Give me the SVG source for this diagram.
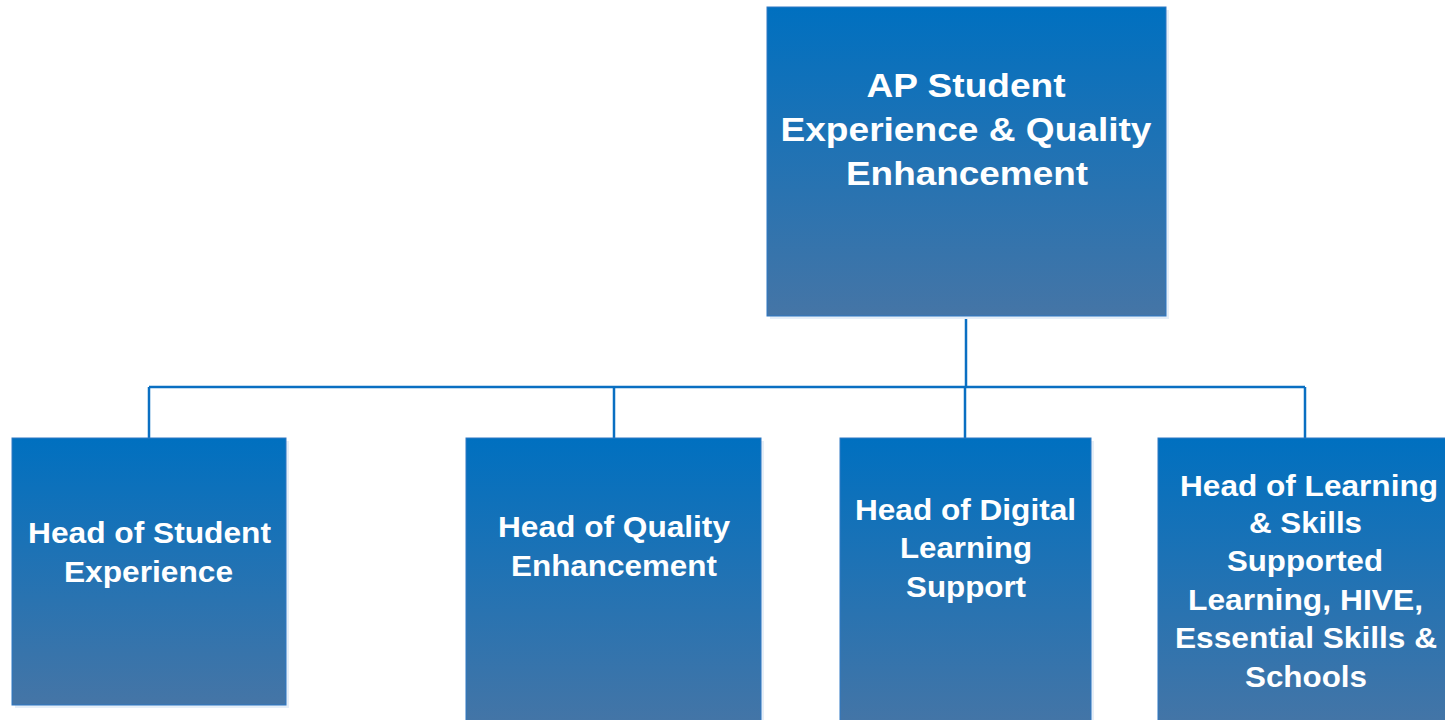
<svg xmlns="http://www.w3.org/2000/svg" width="1445" height="720" viewBox="0 0 1445 720">
<style>
.box{fill:url(#g);stroke:#2F78C4;stroke-width:1}
.sh{fill:#E6EEF7}
.t{font-family:"Liberation Sans",Arial,sans-serif;font-weight:bold;fill:#fff;text-anchor:middle}
.top{font-size:34px}
.sub{font-size:30px}
.c{stroke:#0A6FC2;stroke-width:2.5;fill:none}
</style>
<defs>
<linearGradient id="g" x1="0" y1="0" x2="0" y2="1">
<stop offset="0" stop-color="#0070C0"/>
<stop offset="1" stop-color="#4575A6"/>
</linearGradient>
</defs>
<rect width="1445" height="720" fill="#fff"/>
<g id="connectors">
<path class="c" d="M966 316 V387"/>
<path class="c" d="M149 387 H1305"/>
<path class="c" d="M149 387 V438 M614 387 V438 M965 387 V438 M1305 387 V438"/>
</g>
<g id="n0">
<rect class="sh" x="770" y="10" width="399" height="309"/>
<rect class="box" x="767" y="7" width="399" height="309"/>
<text class="t top" x="966" y="97" textLength="199" lengthAdjust="spacingAndGlyphs">AP Student</text>
<text class="t top" x="966" y="141" textLength="371" lengthAdjust="spacingAndGlyphs">Experience &amp; Quality</text>
<text class="t top" x="967" y="185" textLength="242" lengthAdjust="spacingAndGlyphs">Enhancement</text>
</g>
<g id="n1">
<rect class="sh" x="15" y="441" width="274" height="267"/>
<rect class="box" x="12" y="438" width="274" height="267"/>
<text class="t sub" x="149.5" y="543" textLength="243" lengthAdjust="spacingAndGlyphs">Head of Student</text>
<text class="t sub" x="148.5" y="582" textLength="169" lengthAdjust="spacingAndGlyphs">Experience</text>
</g>
<g id="n2">
<rect class="sh" x="469" y="441" width="295" height="290"/>
<rect class="box" x="466" y="438" width="295" height="290"/>
<text class="t sub" x="614" y="537" textLength="232" lengthAdjust="spacingAndGlyphs">Head of Quality</text>
<text class="t sub" x="614" y="576" textLength="206" lengthAdjust="spacingAndGlyphs">Enhancement</text>
</g>
<g id="n3">
<rect class="sh" x="843" y="441" width="251" height="290"/>
<rect class="box" x="840" y="438" width="251" height="290"/>
<text class="t sub" x="965.5" y="520" textLength="221" lengthAdjust="spacingAndGlyphs">Head of Digital</text>
<text class="t sub" x="966" y="558" textLength="132" lengthAdjust="spacingAndGlyphs">Learning</text>
<text class="t sub" x="966" y="597" textLength="120" lengthAdjust="spacingAndGlyphs">Support</text>
</g>
<g id="n4">
<rect class="box" x="1158" y="438" width="295" height="290"/>
<text class="t sub" x="1309" y="496" textLength="258" lengthAdjust="spacingAndGlyphs">Head of Learning</text>
<text class="t sub" x="1305.5" y="533" textLength="113" lengthAdjust="spacingAndGlyphs">&amp; Skills</text>
<text class="t sub" x="1305" y="571" textLength="156" lengthAdjust="spacingAndGlyphs">Supported</text>
<text class="t sub" x="1305.5" y="610" textLength="235" lengthAdjust="spacingAndGlyphs">Learning, HIVE,</text>
<text class="t sub" x="1306" y="648" textLength="262" lengthAdjust="spacingAndGlyphs">Essential Skills &amp;</text>
<text class="t sub" x="1306" y="687" textLength="122" lengthAdjust="spacingAndGlyphs">Schools</text>
</g>
</svg>
